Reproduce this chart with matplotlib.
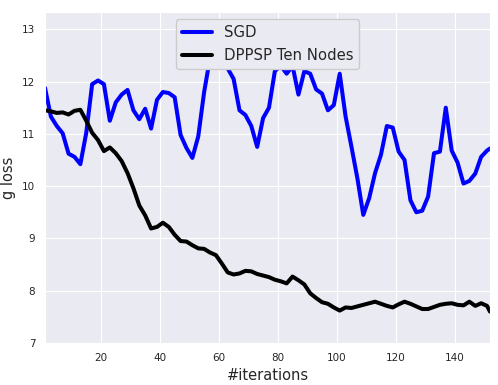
import matplotlib
matplotlib.use("Agg")
import matplotlib.pyplot as plt
import seaborn as sns

sns.set_style("darkgrid")

# sampled every 2 iterations, last point at 152
iters = list(range(1, 152, 2)) + [152]

sgd_loss = [11.88, 11.33, 11.15, 11.01, 10.62, 10.56, 10.42, 11.02, 11.95, 12.02,
            11.95, 11.25, 11.60, 11.75, 11.84, 11.45, 11.28, 11.48, 11.10, 11.65,
            11.80, 11.78, 11.70, 10.98, 10.73, 10.54, 10.95, 11.80, 12.45, 12.70,
            12.50, 12.25, 12.05, 11.45, 11.36, 11.15, 10.75, 11.30, 11.50, 12.20,
            12.30, 12.15, 12.30, 11.75, 12.20, 12.15, 11.85, 11.77, 11.45, 11.55,
            12.15, 11.33, 10.75, 10.15, 9.45, 9.77, 10.25, 10.60, 11.15, 11.12,
            10.66, 10.50, 9.73, 9.50, 9.53, 9.80, 10.63, 10.66, 11.50, 10.68,
            10.45, 10.05, 10.10, 10.24, 10.56, 10.68, 10.72]

dppsp_loss = [11.45, 11.43, 11.40, 11.41, 11.37, 11.44, 11.46, 11.25, 11.02, 10.88,
              10.67, 10.74, 10.63, 10.48, 10.25, 9.96, 9.63, 9.44, 9.19, 9.22,
              9.30, 9.22, 9.07, 8.95, 8.94, 8.87, 8.81, 8.80, 8.73, 8.68,
              8.52, 8.35, 8.31, 8.33, 8.38, 8.37, 8.32, 8.29, 8.26, 8.21,
              8.18, 8.14, 8.27, 8.20, 8.12, 7.95, 7.86, 7.78, 7.75, 7.68,
              7.62, 7.68, 7.67, 7.70, 7.73, 7.76, 7.79, 7.75, 7.71, 7.68,
              7.74, 7.79, 7.75, 7.70, 7.65, 7.65, 7.69, 7.73, 7.75, 7.76,
              7.73, 7.72, 7.79, 7.71, 7.76, 7.71, 7.60]

fig = plt.figure(figsize=(4.98, 3.85), dpi=100)
ax = fig.add_axes([45/498, 1 - 343/385, 445/498, 331/385])

ax.plot(iters, sgd_loss, color="blue", lw=2.9, label="SGD")
ax.plot(iters, dppsp_loss, color="black", lw=2.9, label="DPPSP Ten Nodes")

ax.set_xlim(1, 152)
ax.set_ylim(7, 13.33)
ax.set_xticks([20, 40, 60, 80, 100, 120, 140])
ax.set_yticks([7, 8, 9, 10, 11, 12, 13])
ax.tick_params(labelsize=7.5)
ax.set_xlabel("#iterations", fontsize=10.5)
ax.set_ylabel("g loss", fontsize=10.5)
ax.legend(loc="upper center", fontsize=10.7, framealpha=1)

fig.savefig("out.png", dpi=100)
